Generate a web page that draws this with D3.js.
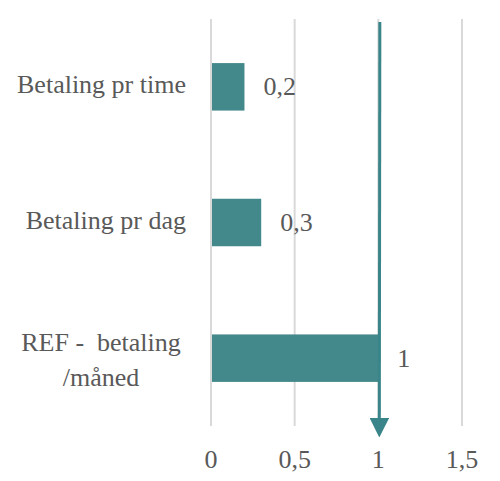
<!DOCTYPE html>
<html>
<head>
<meta charset="utf-8">
<script src="https://cdn.jsdelivr.net/npm/d3@7"></script>
<style>
  body { margin: 0; background: #fff; }
  text { font-family: "Liberation Serif", "DejaVu Serif", serif; fill: #595959; }
</style>
</head>
<body>
<div id="chart"></div>
<script>
const categories = ['Betaling pr time', 'Betaling pr dag', 'REF -  betaling\n/måned'];
const values = [0.2, 0.3, 1];
const ticks = [0, 0.5, 1, 1.5];
const markerValue = 1;

const WIDTH = 500;
const HEIGHT = 481;
const margin = { top: 19, right: 38, bottom: 55, left: 211 };
const FONT = '26px';

const svg = d3.select('#chart')
  .append('svg')
  .attr('width', WIDTH)
  .attr('height', HEIGHT);

const x = d3.scaleLinear()
  .domain([0, 1.5])
  .range([margin.left, WIDTH - margin.right]);

const y = d3.scaleBand()
  .domain(categories)
  .range([margin.top, HEIGHT - margin.bottom])
  .paddingInner(0.65)
  .paddingOuter(0.325);

// gridlines
svg.append('g')
  .selectAll('line')
  .data(ticks)
  .join('line')
  .attr('x1', d => x(d))
  .attr('x2', d => x(d))
  .attr('y1', margin.top)
  .attr('y2', HEIGHT - margin.bottom)
  .attr('stroke', '#d9d9d9')
  .attr('stroke-width', 2);

// tick labels
svg.append('g')
  .selectAll('text')
  .data(ticks)
  .join('text')
  .attr('x', d => x(d))
  .attr('y', 468)
  .attr('text-anchor', 'middle')
  .style('font-size', FONT)
  .text(d => String(d).replace('.', ','));

// bars
const rows = categories.map((c, i) => ({ cat: c, val: values[i] }));

svg.append('g')
  .selectAll('rect')
  .data(rows)
  .join('rect')
  .attr('x', x(0) + 1)
  .attr('y', d => y(d.cat))
  .attr('width', d => x(d.val) - x(0) - 1)
  .attr('height', y.bandwidth())
  .attr('fill', '#43888b');

// value labels
svg.append('g')
  .selectAll('text')
  .data(rows)
  .join('text')
  .attr('x', d => x(d.val) + 19)
  .attr('y', d => y(d.cat) + y.bandwidth() / 2 + 8.5)
  .style('font-size', FONT)
  .text(d => String(d.val).replace('.', ','));

// category labels
svg.append('g')
  .selectAll('text')
  .data(rows)
  .join('text')
  .style('font-size', FONT)
  .style('white-space', 'pre')
  .each(function (d) {
    const lines = d.cat.split('\n');
    const cy = y(d.cat) + y.bandwidth() / 2;
    const t = d3.select(this);
    if (lines.length === 1) {
      t.attr('x', 186).attr('y', cy + 6).attr('text-anchor', 'end').text(lines[0]);
    } else {
      t.attr('text-anchor', 'middle');
      lines.forEach((ln, i) => {
        t.append('tspan')
          .attr('x', 101)
          .attr('y', cy + 10 + (i - (lines.length - 1) / 2) * 35)
          .text(ln);
      });
    }
  });

// marker arrow at reference value
svg.append('defs')
  .append('marker')
  .attr('id', 'arrow')
  .attr('viewBox', '0 0 10 10')
  .attr('refX', 0)
  .attr('refY', 5)
  .attr('markerWidth', 6.5)
  .attr('markerHeight', 6.5)
  .attr('markerUnits', 'strokeWidth')
  .attr('orient', 'auto')
  .append('path')
  .attr('d', 'M0,0 L10,5 L0,10 Z')
  .attr('fill', '#3a8589');

svg.append('line')
  .attr('x1', x(markerValue) + 1.5)
  .attr('x2', x(markerValue) + 1)
  .attr('y1', 22)
  .attr('y2', 418)
  .attr('stroke', '#3a8589')
  .attr('stroke-width', 3)
  .attr('marker-end', 'url(#arrow)');
</script>
</body>
</html>
